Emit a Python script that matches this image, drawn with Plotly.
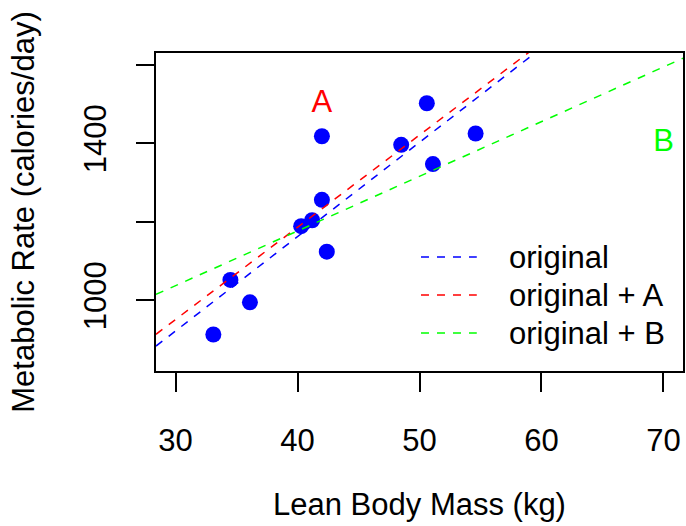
import numpy as np
import plotly.graph_objects as go

# ---- data ----
lean_mass = [36.1, 54.6, 48.5, 42.0, 50.6, 42.0, 40.3, 33.1, 42.4, 34.5, 51.1, 41.2]
met_rate = [995, 1425, 1396, 1418, 1502, 1256, 1189, 913, 1124, 1052, 1347, 1204]
extra_labels = ["A", "B"]
extra_mass = [42.0, 70.0]
extra_rate = [1500, 1400]
extra_colors = ["#FF0000", "#00FF00"]
fit_names = ["original", "original + A", "original + B"]
fit_colors = ["#0000FF", "#FF0000", "#00FF00"]
x_ticks = [30, 40, 50, 60, 70]
y_ticks = [1000, 1200, 1400, 1600]
y_ticktext = ["1000", "", "1400", ""]
x_range = [28.4, 71.6]
y_range = [820, 1630]

FONT = "Liberation Sans, Arial, Helvetica, sans-serif"
FS = 31

fig = go.Figure()

# points
fig.add_trace(go.Scatter(
    x=lean_mass, y=met_rate, mode="markers",
    marker=dict(color="#0000FF", size=16, line=dict(width=0)),
    showlegend=False, hoverinfo="x+y"))

# labels A, B
fig.add_trace(go.Scatter(
    x=extra_mass, y=extra_rate, mode="text", text=extra_labels,
    textfont=dict(color=extra_colors, size=FS, family=FONT),
    textposition="middle center", showlegend=False, cliponaxis=False))

# regression fits
sets = [
    (lean_mass, met_rate),
    (lean_mass + [extra_mass[0]], met_rate + [extra_rate[0]]),
    (lean_mass + [extra_mass[1]], met_rate + [extra_rate[1]]),
]
xl = np.array(x_range)
for (xs, ys), name, col in zip(sets, fit_names, fit_colors):
    slope, icpt = np.polyfit(xs, ys, 1)
    fig.add_trace(go.Scatter(
        x=xl, y=icpt + slope * xl, mode="lines", name=name,
        line=dict(color=col, width=1.5, dash="8px,8px"),
        showlegend=False, hoverinfo="skip"))

# manual legend (R style)
L, R_, T, B = 156, 685, 53, 371
W, H = R_ - L, B - T
def px(xp):
    return (xp - L) / W
def py(yp):
    return (B - yp) / H
rows_y = [257, 295, 333]
for name, col, ry in zip(fit_names, fit_colors, rows_y):
    fig.add_shape(type="line", xref="paper", yref="paper",
                  x0=px(422), x1=px(478), y0=py(ry), y1=py(ry),
                  line=dict(color=col, width=1.5, dash="8px,8px"))
    fig.add_annotation(xref="paper", yref="paper", x=px(508), y=py(ry),
                       text=name, showarrow=False, xanchor="left", yanchor="middle",
                       font=dict(size=FS, family=FONT, color="black"))

axis_common = dict(
    showgrid=False, zeroline=False, showline=True, mirror=True,
    linecolor="black", linewidth=2, ticks="outside",
    tickwidth=2, tickcolor="black",
    tickfont=dict(size=FS, family=FONT, color="black"),
)
fig.update_xaxes(range=x_range, tickvals=x_ticks, ticktext=[str(v) for v in x_ticks],
                 ticklen=19,
                 title=dict(text="Lean Body Mass (kg)", font=dict(size=FS, family=FONT, color="black"),
                            standoff=36),
                 ticklabelstandoff=22, **axis_common)
fig.update_yaxes(range=y_range, tickvals=y_ticks, ticktext=y_ticktext, tickangle=-90,
                 ticklen=18,
                 title=dict(text="Metabolic Rate (calories/day)",
                            font=dict(size=FS, family=FONT, color="black"), standoff=34),
                 ticklabelstandoff=18, **axis_common)

fig.update_layout(
    width=686, height=526,
    margin=dict(l=L, r=686 - R_, t=T, b=526 - B, pad=0),
    plot_bgcolor="white", paper_bgcolor="white",
    font=dict(family=FONT, size=FS, color="black"),
    showlegend=False,
)

fig.write_html("out.html")
